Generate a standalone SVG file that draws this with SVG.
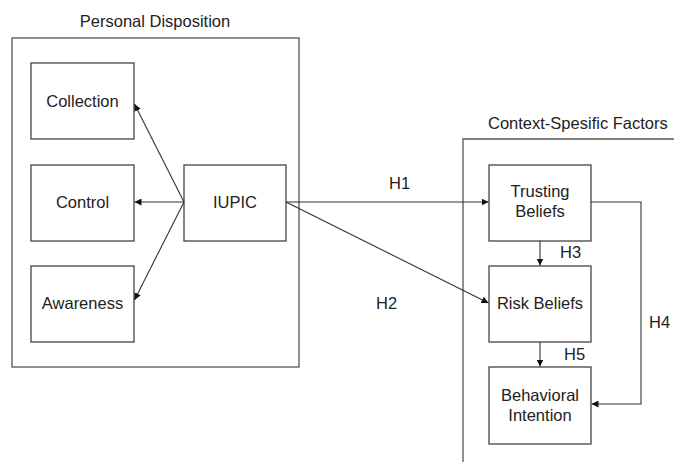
<svg xmlns="http://www.w3.org/2000/svg" width="674" height="462" viewBox="0 0 674 462">
<defs>
<marker id="ah" viewBox="0 0 10 10" refX="10" refY="5" markerWidth="7" markerHeight="7" markerUnits="userSpaceOnUse" orient="auto">
<path d="M0,0 L10,5 L0,10 z" fill="#111"/>
</marker>
</defs>
<style>
.box{fill:#fff;stroke:#444;stroke-width:1.3}
.frame{fill:none;stroke:#555;stroke-width:1.3}
.t{font-family:"Liberation Sans",Arial,sans-serif;font-size:16.5px;fill:#222;text-anchor:middle}
.ts{font-family:"Liberation Sans",Arial,sans-serif;font-size:16.5px;fill:#222}
.c{fill:none;stroke:#333;stroke-width:1.1;marker-end:url(#ah)}
</style>
<rect width="674" height="462" fill="#fff"/>
<g id="personal-disposition">
<rect class="frame" x="12" y="38" width="287" height="329"/>
<text class="t" x="155" y="27">Personal Disposition</text>
</g>
<g id="context-factors">
<path class="frame" d="M463,462 V139 H680"/>
<text class="ts" x="488" y="129">Context-Spesific Factors</text>
</g>
<g id="collection">
<rect class="box" x="31" y="63" width="103" height="76"/>
<text class="t" x="82.5" y="107">Collection</text>
</g>
<g id="control">
<rect class="box" x="31" y="165" width="103" height="76"/>
<text class="t" x="82.5" y="208">Control</text>
</g>
<g id="awareness">
<rect class="box" x="31" y="266" width="103" height="76"/>
<text class="t" x="82.5" y="309">Awareness</text>
</g>
<g id="iupic">
<rect class="box" x="184" y="165" width="102" height="76"/>
<text class="t" x="235" y="208">IUPIC</text>
</g>
<g id="trusting-beliefs">
<rect class="box" x="489" y="165" width="102" height="76"/>
<text class="t" x="540" y="197">Trusting</text>
<text class="t" x="540" y="217">Beliefs</text>
</g>
<g id="risk-beliefs">
<rect class="box" x="489" y="266" width="102" height="76"/>
<text class="t" x="540" y="309">Risk Beliefs</text>
</g>
<g id="behavioral-intention">
<rect class="box" x="489" y="367" width="102" height="77"/>
<text class="t" x="540" y="401">Behavioral</text>
<text class="t" x="540" y="421">Intention</text>
</g>
<g id="connectors">
<line class="c" x1="184" y1="202" x2="134.5" y2="104"/>
<line class="c" x1="184" y1="202" x2="134.5" y2="202"/>
<line class="c" x1="184" y1="202" x2="134.5" y2="300"/>
<line class="c" x1="286" y1="202" x2="488.5" y2="202"/>
<line class="c" x1="286" y1="202" x2="488.5" y2="303"/>
<line class="c" x1="540" y1="241" x2="540" y2="265.5"/>
<line class="c" x1="540" y1="342" x2="540" y2="366.5"/>
<polyline class="c" points="591,202 641,202 641,404 591.5,404"/>
<text class="ts" x="389" y="189">H1</text>
<text class="ts" x="376" y="309">H2</text>
<text class="ts" x="560" y="258">H3</text>
<text class="ts" x="649" y="328">H4</text>
<text class="ts" x="564" y="360">H5</text>
</g>
</svg>
